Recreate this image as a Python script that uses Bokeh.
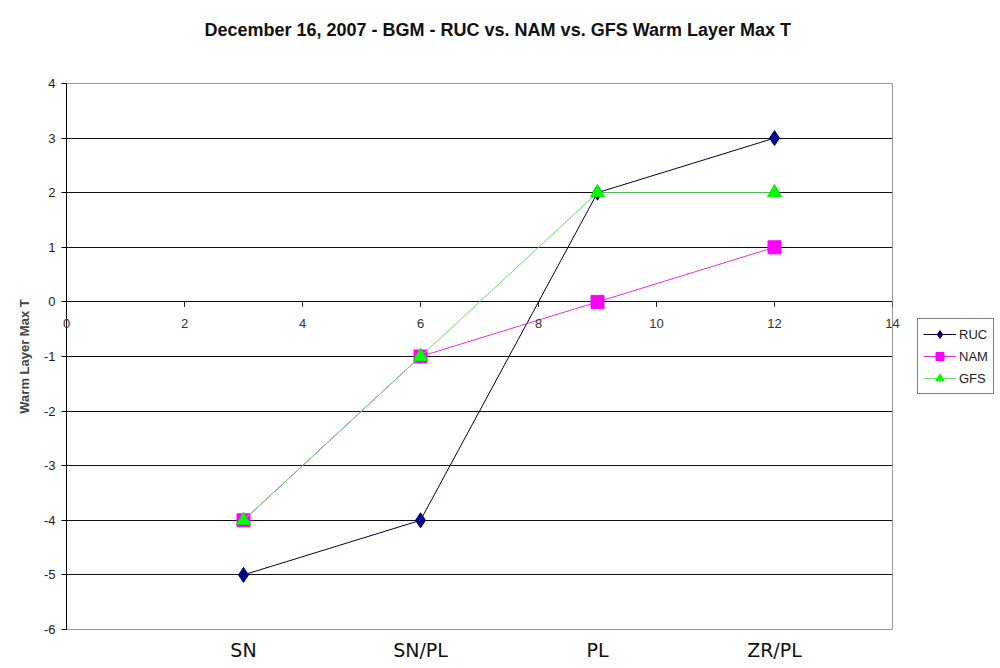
from math import pi
from bokeh.plotting import figure
from bokeh.models import (Range1d, Legend, LegendItem, FixedTicker, LabelSet, Label,
                          ColumnDataSource, Title)
from bokeh.core.properties import value
from bokeh.embed import file_html
from bokeh.resources import INLINE

x_pos = [3, 6, 9, 12]
categories = ["SN", "SN/PL", "PL", "ZR/PL"]
ruc = [-5, -4, 2, 3]
nam = [-4, -1, 0, 1]
gfs = [-4, -1, 2, 2]
x_ticks = [0, 2, 4, 6, 8, 10, 12, 14]
y_ticks = [-6, -5, -4, -3, -2, -1, 0, 1, 2, 3, 4]

FONT = "Liberation Sans"

p = figure(frame_width=826, frame_height=546, output_backend="svg", toolbar_location=None,
           x_range=Range1d(0, 14), y_range=Range1d(-6, 4),
           min_border_left=66, min_border_right=105, min_border_top=83, min_border_bottom=34)

p.title.text = "December 16, 2007 - BGM - RUC vs. NAM vs. GFS Warm Layer Max T"
p.title.align = "left"
p.title.offset = 138
p.title.text_font = FONT
p.title.text_font_style = "bold"
p.title.text_font_size = "18px"
p.title.text_color = "#111111"
# spacer between title and plot area
p.add_layout(Title(text=" ", text_font_size="24px", standoff=10), "above")

p.outline_line_color = "#999999"
p.background_fill_color = "white"
p.border_fill_color = "white"

# y axis
p.yaxis.ticker = FixedTicker(ticks=y_ticks)
p.yaxis.major_label_overrides = {t: str(t) for t in y_ticks}
p.yaxis.axis_line_color = "black"
p.yaxis.major_tick_in = 0
p.yaxis.major_tick_out = 5
p.yaxis.minor_tick_line_color = None
p.yaxis.major_label_text_font = FONT
p.yaxis.major_label_text_font_size = "13px"
p.yaxis.major_label_text_color = "#222222"
p.yaxis.major_label_standoff = 6
p.yaxis.axis_label = "Warm Layer Max T"
p.yaxis.axis_label_text_font = FONT
p.yaxis.axis_label_text_font_style = "bold"
p.yaxis.axis_label_text_font_size = "13px"
p.yaxis.axis_label_standoff = 9

p.ygrid.ticker = FixedTicker(ticks=y_ticks)
p.ygrid.grid_line_color = "#111111"
p.ygrid.grid_line_width = 1
p.xgrid.grid_line_color = None

# bottom axis with category labels
p.xaxis.ticker = FixedTicker(ticks=x_pos)
p.xaxis.major_label_overrides = {x: c for x, c in zip(x_pos, categories)}
p.xaxis.axis_line_color = None
p.xaxis.major_tick_line_color = None
p.xaxis.minor_tick_line_color = None
p.xaxis.major_label_text_font = "DejaVu Sans"
p.xaxis.major_label_text_font_size = "19px"
p.xaxis.major_label_text_color = "#111111"
p.xaxis.major_label_standoff = 3

# numeric x axis crossing at y=0: ticks and labels
zeros = [0] * len(x_ticks)
p.ray(x=x_ticks, y=zeros, length=5, length_units="screen", angle=-pi / 2,
      line_color="#222222", line_width=1)
inner = x_ticks[1:-1]
tick_src = ColumnDataSource(dict(x=inner, y=[0] * len(inner), t=[str(t) for t in inner]))
p.add_layout(LabelSet(x="x", y="y", text="t", source=tick_src, y_offset=-22,
                      text_align="center", text_baseline="middle", text_font=value(FONT),
                      text_font_size="13px", text_color="#333333"))
edge_style = dict(text_align="center", text_baseline="middle", text_font=FONT,
                  text_font_size="13px", text_color="#333333", y_offset=-22)
# edge labels live in the side panels so they are not cut by the plot frame
p.add_layout(Label(x=x_ticks[0], y=0, text=str(x_ticks[0]), **edge_style), "left")

# series
r_l = p.line(x_pos, ruc, line_color="#000033", line_width=1)
r_m = p.scatter(x_pos, ruc, marker="diamond", size=15,
                fill_color="#000080", line_color="#000080")
n_l = p.line(x_pos, nam, line_color="#DD33DD", line_width=1)
n_m = p.scatter(x_pos, nam, marker="square", size=13,
                fill_color="#FF00FF", line_color="#FF00FF")
g_l = p.line(x_pos, gfs, line_color="#66DD66", line_width=1)
g_m = p.scatter(x_pos, gfs, marker="triangle", size=14,
                fill_color="#00FF00", line_color="#00EE00")

legend = Legend(items=[
    LegendItem(label="RUC", renderers=[r_l, r_m]),
    LegendItem(label="NAM", renderers=[n_l, n_m]),
    LegendItem(label="GFS", renderers=[g_l, g_m]),
], location="center_left")
legend.margin = 25
legend.padding = 5
legend.spacing = 2
legend.glyph_width = 33
legend.glyph_height = 20
legend.label_standoff = 3
legend.label_text_font = FONT
legend.label_text_font_size = "13px"
legend.label_text_color = "#222222"
legend.border_line_color = "black"
legend.border_line_width = 1
legend.background_fill_alpha = 1
p.add_layout(legend, "right")
p.add_layout(Label(x=x_ticks[-1], y=0, text=str(x_ticks[-1]), **edge_style), "right")

open("out.html", "w").write(file_html(p, INLINE))
